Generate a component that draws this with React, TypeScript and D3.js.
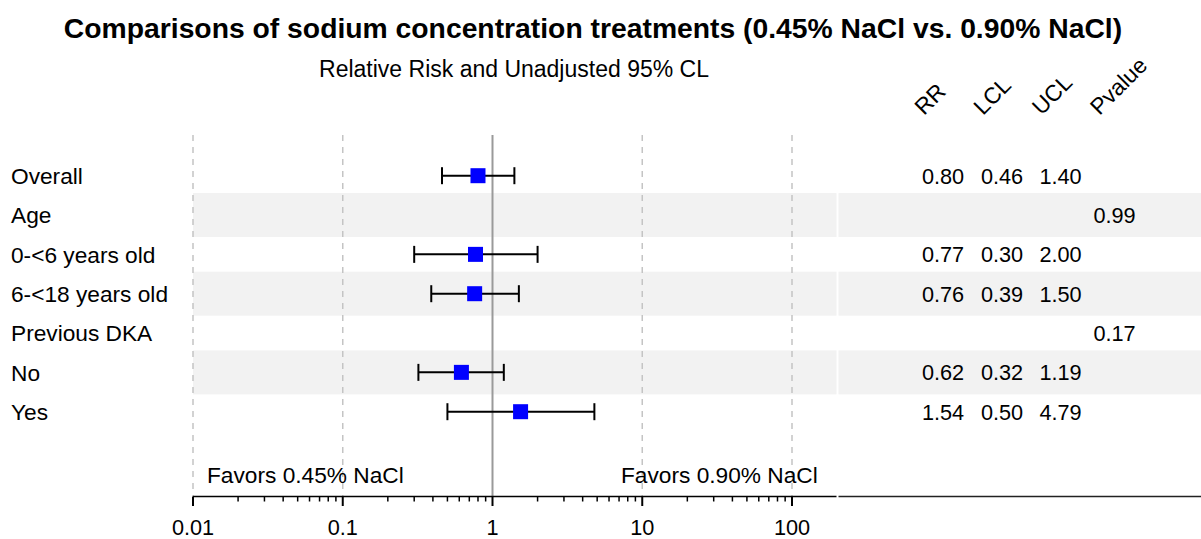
import React from "react";
import * as d3 from "d3";

const labels = ["Overall", "Age", "0-<6 years old", "6-<18 years old", "Previous DKA", "No", "Yes"];
const rr: (number | null)[] = [0.8, null, 0.77, 0.76, null, 0.62, 1.54];
const lcl: (number | null)[] = [0.46, null, 0.3, 0.39, null, 0.32, 0.5];
const ucl: (number | null)[] = [1.4, null, 2.0, 1.5, null, 1.19, 4.79];
const pvalue: (number | null)[] = [null, 0.99, null, null, 0.17, null, null];
const shaded = [false, true, false, true, false, true, false];
const columnHeaders = ["RR", "LCL", "UCL", "Pvalue"];
const majorTicks = [0.01, 0.1, 1, 10, 100];
const gridTicks = [0.01, 0.1, 10, 100];

const W = 1201;
const H = 539;
const FONT = "'Liberation Sans', Arial, sans-serif";

export default function App() {
  const x = d3.scaleLog().domain([0.01, 100]).range([193, 792]);
  const y = d3.scalePoint<string>().domain(labels).range([175.7, 411.7]);
  const colX = [943, 1002, 1060.5, 1114.5];
  const axisY = 496.5;
  const gridTop = 135;
  const bandH = 44;
  const panelRight = 836.5;
  const fsLab = 22.7;
  const fsNum = 21.7;

  const minorTicks: number[] = [];
  for (let d = 0.01; d < 100; d *= 10) {
    for (let k = 2; k <= 9; k++) minorTicks.push(+(d * k).toPrecision(3));
  }

  const fmt = d3.format(".2f");

  return (
    <svg
      width={W}
      height={H}
      style={{ position: "absolute", left: 0, top: 0, background: "#fff" }}
      fontFamily={FONT}
    >
      <rect x={0} y={0} width={W} height={H} fill="#fff" />
      {labels.map((l, i) =>
        shaded[i] ? (
          <g key={"band" + i}>
            <rect x={193} y={(y(l) as number) - bandH / 2} width={panelRight - 193} height={bandH} fill="#f2f2f2" />
            <rect x={838.5} y={(y(l) as number) - bandH / 2} width={W - 838.5} height={bandH} fill="#f2f2f2" />
          </g>
        ) : null
      )}
      {gridTicks.map((t) => (
        <line key={"g" + t} x1={x(t)} x2={x(t)} y1={gridTop} y2={axisY} stroke="#c4c4c4" strokeWidth={1.5} strokeDasharray="6,6" />
      ))}
      <line x1={x(1)} x2={x(1)} y1={gridTop} y2={axisY} stroke="#9a9a9a" strokeWidth={2} />
      <text x={593} y={38} textAnchor="middle" fontSize={28.3} fontWeight="bold" fill="#000">
        Comparisons of sodium concentration treatments (0.45% NaCl vs. 0.90% NaCl)
      </text>
      <text x={514} y={77} textAnchor="middle" fontSize={23} fill="#000">
        Relative Risk and Unadjusted 95% CL
      </text>
      {columnHeaders.map((h, i) => (
        <text
          key={h}
          transform={`translate(${colX[i] - (i === 3 ? 15 : 19)},116) rotate(-45)`}
          fontSize={fsLab}
          fill="#000"
        >
          {h}
        </text>
      ))}
      {labels.map((l) => (
        <text key={"l" + l} x={11} y={y(l) as number} dy="0.36em" fontSize={fsLab} fill="#000">
          {l}
        </text>
      ))}
      {labels.map((l, i) => {
        const r = rr[i];
        const lo = lcl[i];
        const hi = ucl[i];
        if (r == null || lo == null || hi == null) return null;
        const cy = y(l) as number;
        return (
          <g key={"ci" + i}>
            <line x1={x(lo)} x2={x(hi)} y1={cy} y2={cy} stroke="#000" strokeWidth={2} />
            <line x1={x(lo)} x2={x(lo)} y1={cy - 8.5} y2={cy + 8.5} stroke="#000" strokeWidth={2} />
            <line x1={x(hi)} x2={x(hi)} y1={cy - 8.5} y2={cy + 8.5} stroke="#000" strokeWidth={2} />
            <rect x={x(r) - 7.5} y={cy - 7.5} width={15} height={15} fill="#0000ff" />
          </g>
        );
      })}
      {labels.map((l, i) => {
        const cy = y(l) as number;
        const vals = [rr[i], lcl[i], ucl[i], pvalue[i]];
        return vals.map((v, j) =>
          v == null ? null : (
            <text key={"v" + i + "-" + j} x={colX[j]} y={cy} dy="0.36em" textAnchor="middle" fontSize={fsNum} fill="#000">
              {fmt(v)}
            </text>
          )
        );
      })}
      <text x={207} y={483} fontSize={fsLab} fill="#000">Favors 0.45% NaCl</text>
      <text x={621} y={483} fontSize={fsLab} fill="#000">Favors 0.90% NaCl</text>
      <line x1={193} x2={panelRight} y1={axisY} y2={axisY} stroke="#000" strokeWidth={1.5} />
      <line x1={838.5} x2={W} y1={axisY} y2={axisY} stroke="#222" strokeWidth={1.5} />
      {majorTicks.map((t) => (
        <g key={"t" + t}>
          <line x1={x(t)} x2={x(t)} y1={axisY} y2={axisY + 9.5} stroke="#000" strokeWidth={2} />
          <text x={x(t)} y={535} textAnchor="middle" fontSize={fsNum} fill="#000">
            {String(t)}
          </text>
        </g>
      ))}
      {minorTicks.map((t) => (
        <line key={"m" + t} x1={x(t)} x2={x(t)} y1={axisY} y2={axisY + 5} stroke="#000" strokeWidth={1.5} />
      ))}
    </svg>
  );
}
